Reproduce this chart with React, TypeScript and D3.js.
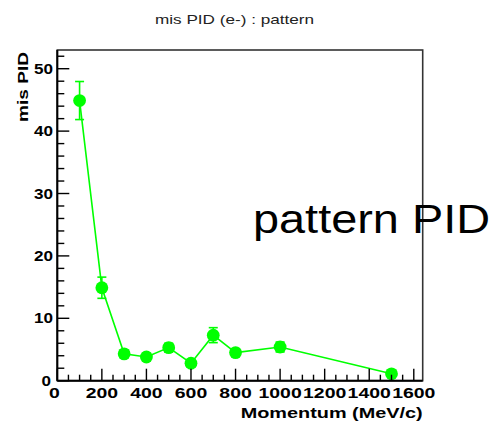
import React from "react";
import * as d3 from "d3";

// Momentum bins (MeV/c), mis-identification rate (%) and its error
const momentum = [100, 200, 300, 400, 500, 600, 700, 800, 1000, 1500];
const misPID = [44.9, 14.9, 4.3, 3.8, 5.3, 2.8, 7.3, 4.5, 5.4, 1.1];
const misPIDErr = [3.05, 1.7, 0.6, 0.6, 0.7, 0.6, 1.2, 0.6, 0.8, 0.5];

const xMajorTicks = [0, 200, 400, 600, 800, 1000, 1200, 1400, 1600];
const yMajorTicks = [0, 10, 20, 30, 40, 50];

const titleText = "mis PID (e-) : pattern";
const xTitle = "Momentum (MeV/c)";
const yTitle = "mis PID";
const noteText = "pattern PID";

const W = 497;
const H = 422;
const frame = { left: 57.3, right: 422.7, top: 50, bottom: 380.7 };

export default function App() {
  const x = d3.scaleLinear().domain([0, 1640]).range([frame.left, frame.right]);
  const y = d3.scaleLinear().domain([0, 53]).range([frame.bottom, frame.top]);

  const xMinor = d3.range(0, 1641, 50).filter((v) => v % 200 !== 0);
  const yMinor = d3.range(0, 53, 2).filter((v) => v % 10 !== 0);

  const pts = momentum.map((m, i) => ({ m, v: misPID[i], e: misPIDErr[i] }));
  const line = d3
    .line<{ m: number; v: number }>()
    .x((d) => x(d.m))
    .y((d) => y(d.v));

  const green = "#00ff00";
  const labelFont = "'Liberation Sans', Arial, Helvetica, sans-serif";

  return (
    <div style={{ position: "fixed", left: 0, top: 0 }}>
      <svg width={W} height={H} style={{ display: "block", background: "#fff" }}>
        {/* title */}
        <text
          x={234.5}
          y={24}
          textAnchor="middle"
          fontFamily={labelFont}
          fontSize={13}
          fill="#222"
          textLength={159}
          lengthAdjust="spacingAndGlyphs"
        >
          {titleText}
        </text>

        {/* data line */}
        <path d={line(pts) || ""} fill="none" stroke={green} strokeWidth={1.6} />

        {/* error bars */}
        {pts.map((p, i) => (
          <g key={"e" + i} stroke={green} strokeWidth={1.6}>
            <line x1={x(p.m)} x2={x(p.m)} y1={y(p.v + p.e)} y2={y(p.v - p.e)} />
            <line x1={x(p.m) - 4.5} x2={x(p.m) + 4.5} y1={y(p.v + p.e)} y2={y(p.v + p.e)} />
            <line x1={x(p.m) - 4.5} x2={x(p.m) + 4.5} y1={y(p.v - p.e)} y2={y(p.v - p.e)} />
          </g>
        ))}

        {/* markers */}
        {pts.map((p, i) => (
          <circle key={"m" + i} cx={x(p.m)} cy={y(p.v)} r={6.4} fill={green} />
        ))}

        {/* frame */}
        <rect
          x={frame.left}
          y={frame.top}
          width={frame.right - frame.left}
          height={frame.bottom - frame.top}
          fill="none"
          stroke="#333"
          strokeWidth={1.6}
        />
        <line x1={frame.left} x2={frame.right} y1={frame.bottom} y2={frame.bottom} stroke="#000" strokeWidth={2} />
        <line x1={frame.left} x2={frame.left} y1={frame.top} y2={frame.bottom} stroke="#000" strokeWidth={2} />

        {/* x ticks */}
        {xMajorTicks.map((t) => (
          <line key={"xM" + t} x1={x(t)} x2={x(t)} y1={frame.bottom} y2={frame.bottom - 12} stroke="#000" strokeWidth={1.4} />
        ))}
        {xMinor.map((t) => (
          <line key={"xm" + t} x1={x(t)} x2={x(t)} y1={frame.bottom} y2={frame.bottom - 6} stroke="#000" strokeWidth={1.4} />
        ))}

        {/* y ticks */}
        {yMajorTicks.map((t) => (
          <line key={"yM" + t} x1={frame.left} x2={frame.left + 12} y1={y(t)} y2={y(t)} stroke="#000" strokeWidth={1.4} />
        ))}
        {yMinor.map((t) => (
          <line key={"ym" + t} x1={frame.left} x2={frame.left + 7} y1={y(t)} y2={y(t)} stroke="#000" strokeWidth={1.4} />
        ))}

        {/* x tick labels */}
        {xMajorTicks.map((t) => {
          const s = String(t);
          return (
            <text
              key={"xl" + t}
              x={t === 0 ? x(t) - 3 : x(t)}
              y={397.5}
              textAnchor="middle"
              fontFamily={labelFont}
              fontWeight="bold"
              fontSize={14}
              fill="#000"
              textLength={s.length * 10.8}
              lengthAdjust="spacingAndGlyphs"
            >
              {s}
            </text>
          );
        })}

        {/* y tick labels */}
        {yMajorTicks.map((t) => {
          const s = String(t);
          return (
            <text
              key={"yl" + t}
              x={t === 0 ? 51 : 53}
              y={y(t) + 5}
              textAnchor="end"
              fontFamily={labelFont}
              fontWeight="bold"
              fontSize={14}
              fill="#000"
              textLength={s.length * 9.5}
              lengthAdjust="spacingAndGlyphs"
            >
              {s}
            </text>
          );
        })}

        {/* axis titles */}
        <text
          x={frame.right}
          y={417.5}
          textAnchor="end"
          fontFamily={labelFont}
          fontWeight="bold"
          fontSize={15.5}
          fill="#000"
          textLength={182}
          lengthAdjust="spacingAndGlyphs"
        >
          {xTitle}
        </text>
        <text
          transform={`translate(28,${frame.top + 2}) rotate(-90)`}
          textAnchor="end"
          fontFamily={labelFont}
          fontWeight="bold"
          fontSize={15}
          fill="#000"
          textLength={70}
          lengthAdjust="spacingAndGlyphs"
        >
          {yTitle}
        </text>

        {/* annotation */}
        <text
          x={253}
          y={233}
          fontFamily={labelFont}
          fontSize={41}
          fill="#000"
          textLength={237}
          lengthAdjust="spacingAndGlyphs"
        >
          {noteText}
        </text>
      </svg>
    </div>
  );
}
